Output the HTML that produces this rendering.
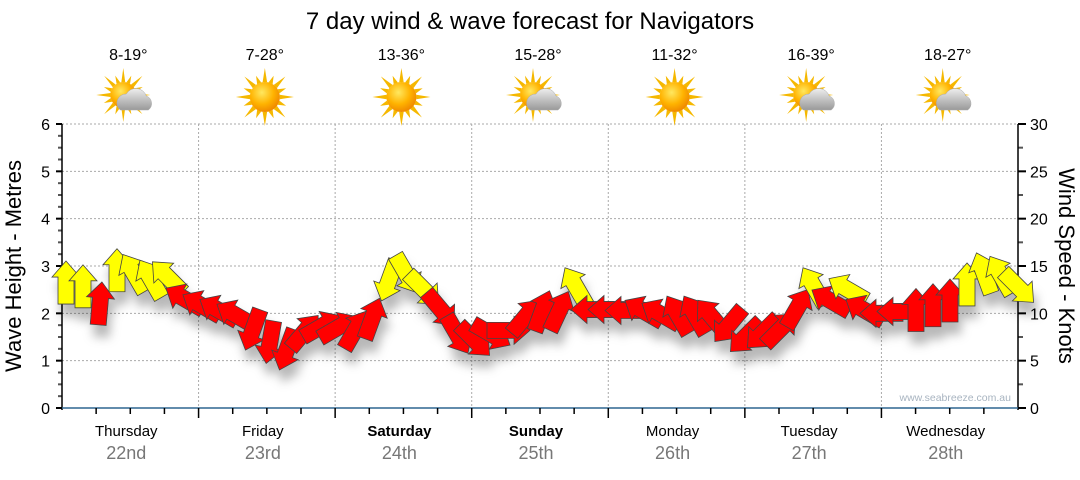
<!DOCTYPE html>
<html><head><meta charset="utf-8"><style>
body{margin:0;background:#fff;font-family:"Liberation Sans",sans-serif}
svg text{font-family:"Liberation Sans","DejaVu Sans",sans-serif}
</style></head><body>
<svg id="c" width="1080" height="475" viewBox="0 0 1080 475" xmlns="http://www.w3.org/2000/svg">
<defs>
<filter id="sh" x="-50%" y="-50%" width="200%" height="250%"><feDropShadow dx="3" dy="12" stdDeviation="5" flood-color="#000" flood-opacity="0.28"/></filter>
<radialGradient id="sun" cx="40%" cy="35%" r="65%"><stop offset="0" stop-color="#ffe860"/><stop offset="0.6" stop-color="#ffb300"/><stop offset="1" stop-color="#f08a00"/></radialGradient>
<linearGradient id="cloud" x1="0" y1="0" x2="0" y2="1"><stop offset="0" stop-color="#eee"/><stop offset="1" stop-color="#999"/></linearGradient>
</defs>
<text x="530" y="29" text-anchor="middle" font-size="24" fill="#000">7 day wind &amp; wave forecast for Navigators</text>
<g id="grid"></g><g id="axes"></g><g id="days"></g><g id="arrows" filter="url(#sh)"></g>
<text x="1011" y="401" text-anchor="end" font-size="10.5" fill="#a8b4c0">www.seabreeze.com.au</text>
<text transform="translate(21,266) rotate(-90)" text-anchor="middle" font-size="22">Wave Height - Metres</text>
<text transform="translate(1059,266) rotate(90)" text-anchor="middle" font-size="22">Wind Speed - Knots</text>
</svg>
<script>
const dayNames=["Thursday","Friday","Saturday","Sunday","Monday","Tuesday","Wednesday"];
const dayDates=["22nd","23rd","24th","25th","26th","27th","28th"];
const temps=["8-19°","7-28°","13-36°","15-28°","11-32°","16-39°","18-27°"];
const cloudy=[1,0,0,1,0,1,1];
const leftTicks=[0,1,2,3,4,5,6];
const rightTicks=[0,5,10,15,20,25,30];
const windSpeed=[13.2,12.8,11.0,14.5,14.2,13.6,13.8,11.5,10.8,10.3,9.8,8.3,7.0,6.2,8.0,8.6,8.5,8.2,9.4,13.5,14.2,12.6,10.5,7.8,7.2,7.8,8.2,9.6,10.2,10.2,12.8,10.4,10.4,10.3,10.2,9.9,9.8,9.8,9.6,8.8,7.6,8.0,8.3,10.5,12.8,11.3,12.5,10.3,10.0,10.2,10.3,10.8,11.3,13.0,14.2,14.0,12.8];
const windDir=[0,0,5,0,330,330,315,300,300,300,300,200,190,200,40,60,60,30,20,200,150,135,140,150,135,120,90,40,20,25,330,270,270,270,300,300,330,330,320,220,225,225,45,30,330,300,300,300,270,270,0,0,0,0,340,330,135];
const NS="http://www.w3.org/2000/svg";
const X0=62,X1=1018,Y0=408,Y1=124,DAY=(X1-X0)/7;
const yL=v=>Y0-(Y0-Y1)*v/6, yR=v=>Y0-(Y0-Y1)*v/30;
const xT=h=>X0+DAY*h/24;
function mk(tag,attrs,parent,txt){const e=document.createElementNS(NS,tag);for(const k in attrs)e.setAttribute(k,attrs[k]);if(txt!=null)e.textContent=txt;parent.appendChild(e);return e;}
const grid=document.getElementById('grid'),axes=document.getElementById('axes'),days=document.getElementById('days'),arr=document.getElementById('arrows');
leftTicks.forEach(v=>{if(v>0){const l=mk('line',{x1:X0,x2:X1,y1:yL(v),y2:yL(v),stroke:'#aaa','stroke-dasharray':'2,2'},grid);

}
const t=mk('text',{x:50,y:yL(v)+6,'text-anchor':'end','font-size':16},axes,v);

});
rightTicks.forEach(v=>{const t=mk('text',{x:1030,y:yR(v)+6,'font-size':16},axes,v);

});
for(let v=0;v<=6;v+=0.25){const maj=v%1===0;mk('line',{x1:maj?56:58,x2:X0,y1:yL(v),y2:yL(v),stroke:maj?'#000':'#555','stroke-width':2},axes);}
for(let v=0;v<=30;v+=2.5){const maj=v%5===0;mk('line',{x1:X1,x2:maj?1026:1023,y1:yR(v),y2:yR(v),stroke:maj?'#000':'#555','stroke-width':2},axes);}
mk('line',{x1:X0,x2:X0,y1:Y1,y2:Y0+2,stroke:'#000','stroke-width':1.5},axes);
mk('line',{x1:X1,x2:X1,y1:Y1,y2:Y0+2,stroke:'#000','stroke-width':1.5},axes);
mk('line',{x1:X0,x2:X1,y1:Y0,y2:Y0,stroke:'#2f6690','stroke-width':1.5},axes);
for(let h=6;h<168;h+=6){const b=h%24===0;mk('line',{x1:xT(h),x2:xT(h),y1:Y0,y2:Y0+(b?10:6),stroke:'#000','stroke-width':1.5},axes);}
function sunIcon(g,cx,cy,r){for(let i=0;i<16;i++){const a=i*Math.PI/8,L=i%2?r+8:r+14;mk('polygon',{points:`${cx+Math.cos(a-0.15)*r},${cy+Math.sin(a-0.15)*r} ${cx+Math.cos(a)*L},${cy+Math.sin(a)*L} ${cx+Math.cos(a+0.15)*r},${cy+Math.sin(a+0.15)*r}`,fill:'#f5b800'},g);}mk('circle',{cx,cy,r,fill:'url(#sun)'},g);}
dayNames.forEach((d,i)=>{const cx=X0+DAY*(i+0.5);
if(i>0){const l=mk('line',{x1:X0+DAY*i,x2:X0+DAY*i,y1:Y1,y2:Y0,stroke:'#aaa','stroke-dasharray':'2,2'},grid);

}
const bold=(i===2||i===3);
const t=mk('text',{x:cx-4,y:436,'text-anchor':'middle','font-size':15,'font-weight':bold?'bold':'normal'},days,d);


const t2=mk('text',{x:cx-4,y:459,'text-anchor':'middle','font-size':18,fill:'#777'},days,dayDates[i]);


const t3=mk('text',{x:cx-2,y:60,'text-anchor':'middle','font-size':16},days,temps[i]);


const g=mk('g',{},days);


if(cloudy[i]){sunIcon(g,cx-7,95,13);mk('path',{d:`M${cx-10},110 a9,9 0 0 1 6,-16 a11,11 0 0 1 20,2 a8,8 0 0 1 2,14 z`,fill:'url(#cloud)',stroke:'#aaa','stroke-width':0.5},g);}
else sunIcon(g,cx-2,97,15);});
const shape="0,-22 14,-6 8,-6 8,21 -8,21 -8,-6 -14,-6";
windSpeed.forEach((s,i)=>{const x=66+17*i,y=yR(s);
const p=mk('polygon',{points:shape,transform:`translate(${x},${y}) rotate(${windDir[i]})`,fill:s>=12.5?'#ffff00':'#ff0000',stroke:'#444','stroke-width':0.8},arr);

});
</script>
</body></html>
